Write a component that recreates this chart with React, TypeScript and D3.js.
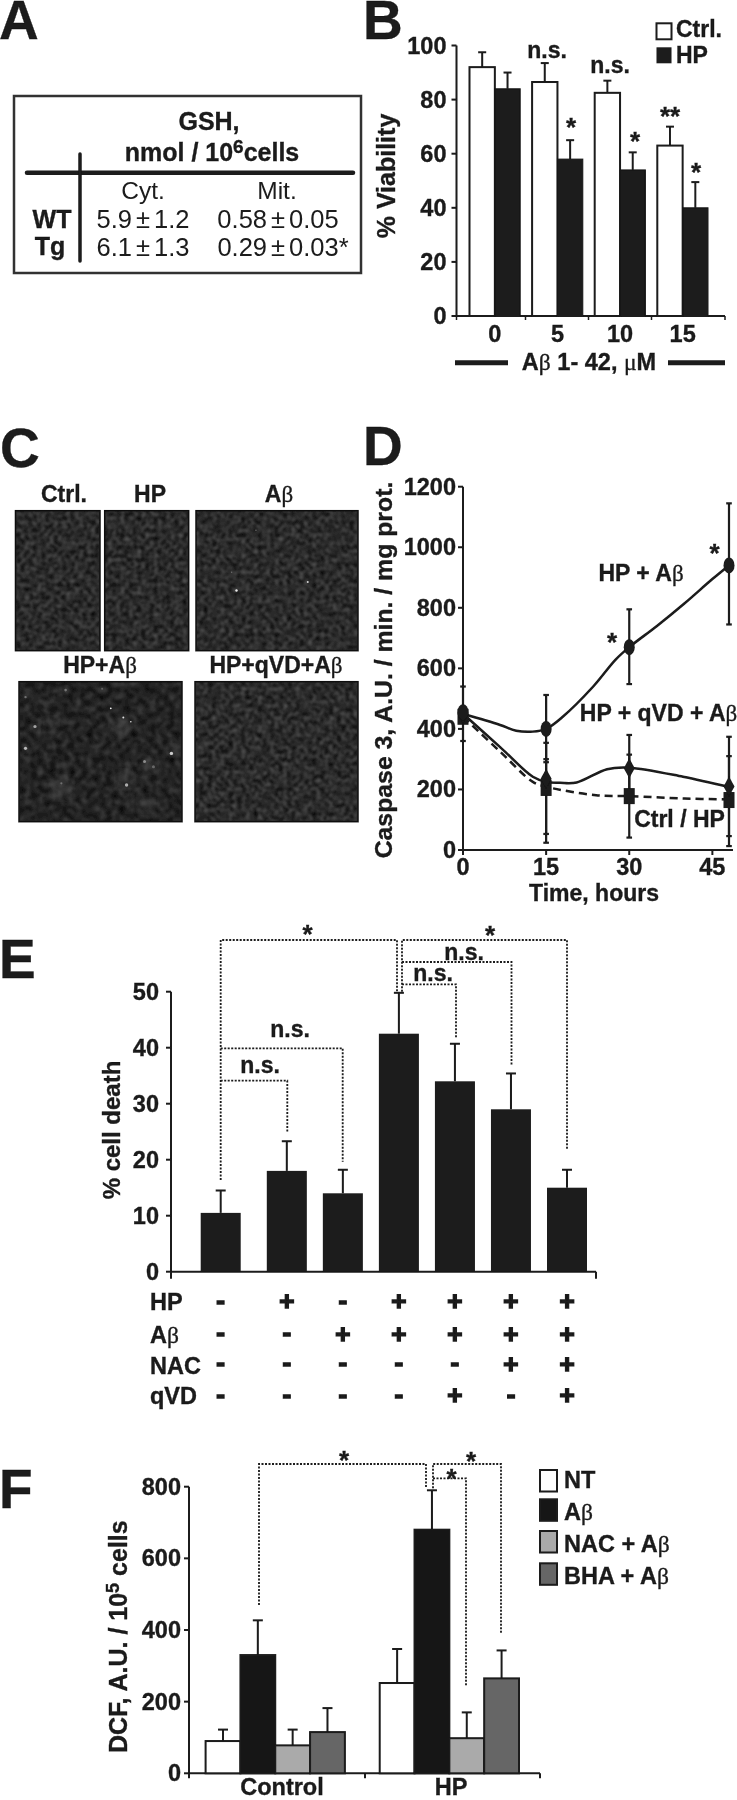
import React from "react";
import * as d3 from "d3";

const INK = "#1a1a1a";
const SANS = "'Liberation Sans', Arial, sans-serif";
const SERIF = "'Liberation Serif', serif";

// Panel B
const bDoses = ["0", "5", "10", "15"];
const bCtrl = [92, 86.5, 82.5, 63];
const bHP = [84, 58, 54, 40];
const bCtrlTop = [97.5, 93.5, 87, 70];
const bHPTop = [90, 65, 60.5, 49.5];
const bTicks = [0, 20, 40, 60, 80, 100];

// Panel D
const dTicksY = [0, 200, 400, 600, 800, 1000, 1200];
const dTicksX = [0, 15, 30, 45];
const dTimes = [0, 15, 30, 48];
const dHPAb = [455, 400, 670, 940];
const dHPAbHi = [540, 512, 795, 1145];
const dHPAbLo = [360, 290, 548, 745];
const dQvd = [450, 235, 270, 210];
const dQvdHi = [450, 354, 380, 374];
const dQvdLo = [450, 24, 165, 46];
const dCtrl = [440, 205, 178, 165];
const dCtrlHi = [440, 300, 315, 310];
const dCtrlLo = [440, 53, 41, 13];
const dCurveHPAb: [number, number][] = [[0, 450], [6.7, 413], [9.6, 394], [12.6, 391], [15, 400], [18, 440], [23.5, 540], [27.5, 628], [30, 670], [35, 740], [40, 815], [45, 895], [48, 940]];
const dCurveQvd: [number, number][] = [[0, 450], [6.7, 340], [12.6, 242], [15, 225], [17.5, 222], [20.5, 223], [26, 267], [30, 272], [39.7, 242], [48, 208]];
const dCurveCtrl: [number, number][] = [[0, 440], [6.7, 325], [12.6, 225], [15, 209], [24, 181], [30, 178], [40, 170], [48, 167]];

// Panel E
const eVals = [10.5, 18, 14, 42.5, 34, 29, 15];
const eTop = [14.5, 23.3, 18.2, 49.8, 40.7, 35.4, 18.2];
const eSlots = [0, 1.18, 2.18, 3.18, 4.18, 5.18, 6.18];
const eTicks = [0, 10, 20, 30, 40, 50];
const eHP = ["-", "+", "-", "+", "+", "+", "+"];
const eAb = ["-", "-", "+", "+", "+", "+", "+"];
const eNAC = ["-", "-", "-", "-", "-", "+", "+"];
const eQvd = ["-", "-", "-", "-", "+", "-", "+"];

// Panel F
const fGroups = ["Control", "HP"];
const fSeries = ["NT", "Aβ", "NAC + Aβ", "BHA + Aβ"];
const fColors = ["#ffffff", "#151515", "#aaaaaa", "#666666"];
const fControl = [90, 330, 78, 115];
const fControlTop = [122, 427, 122, 182];
const fHP = [252, 680, 98, 265];
const fHPTop = [347, 790, 170, 343];
const fTicks = [0, 200, 400, 600, 800];

// Panel C bright cells, as fractions of each micrograph
const cSpotsAb: [number, number, number, number][] = [[0.25, 0.57, 1.2, 0.95], [0.69, 0.51, 1, 0.85], [0.37, 0.14, 0.7, 0.4], [0.22, 0.44, 0.7, 0.3]];
const cSpotsHPAb: [number, number, number, number][] = [[0.563, 0.19, 0.9, 1], [0.64, 0.255, 1, 0.9], [0.686, 0.286, 0.8, 0.9], [0.098, 0.32, 1.6, 0.6], [0.04, 0.476, 1.6, 0.7], [0.935, 0.512, 1.7, 0.8], [0.77, 0.57, 1.5, 0.45], [0.825, 0.607, 1.5, 0.3], [0.66, 0.738, 1.7, 0.65], [0.26, 0.726, 1.1, 0.3], [0.286, 0.06, 1.3, 0.35], [0.04, 0.11, 1.2, 0.35], [0.51, 0.05, 1, 0.25]];
const cHalosHPAb: [number, number, number][] = [[0.62, 0.32, 10], [0.26, 0.76, 11], [0.65, 0.7, 9], [0.8, 0.595, 8], [0.78, 0.87, 8], [0.95, 0.49, 6], [0.1, 0.33, 4], [0.05, 0.48, 4], [0.29, 0.06, 4], [0.2, 0.3, 7]];

const T = ({ x, y, children, size = 24, anchor = "start", weight = "bold", rotate, heavy = 0.35 }: any) => (
  <text
    x={x}
    y={y}
    fontSize={size}
    fontWeight={weight}
    fontFamily={SANS}
    textAnchor={anchor}
    fill={INK}
    stroke={weight === "bold" ? INK : "none"}
    strokeWidth={weight === "bold" ? heavy : 0}
    transform={rotate ? `rotate(${rotate} ${x} ${y})` : undefined}
  >
    {children}
  </text>
);
const Beta = () => <tspan fontFamily={SERIF} fontWeight="normal">β</tspan>;
const Star = ({ x, y, s = "*" }: any) => <T x={x} y={y + 14} size={26} anchor="middle">{s}</T>;
const Letter = ({ x, y, c }: any) => <T x={x} y={y} size={55}>{c}</T>;
const PM = ({ a, b }: { a: string; b: string }) => (
  <>
    {a}
    <tspan dx={4}>±</tspan>
    <tspan dx={4}>{b}</tspan>
  </>
);

const YAxis = ({ x, scale, ticks, tick = 5, sw = 2, labelGap = 5 }: any) => (
  <g>
    <line x1={x} x2={x} y1={scale(ticks[ticks.length - 1])} y2={scale(0)} stroke={INK} strokeWidth={sw} />
    {ticks.map((t: number) => (
      <g key={t}>
        <line x1={x - tick} x2={x} y1={scale(t)} y2={scale(t)} stroke={INK} strokeWidth={sw} />
        <T x={x - tick - labelGap} y={scale(t) + 8} anchor="end" size={23.5}>{t}</T>
      </g>
    ))}
  </g>
);

const ErrBar = ({ x, y0, y1, cap = 4, sw = 2 }: any) => (
  <g stroke={INK} strokeWidth={sw}>
    <line x1={x} x2={x} y1={y0} y2={y1} />
    <line x1={x - cap} x2={x + cap} y1={y1} y2={y1} />
  </g>
);

const Dotted = ({ pts }: { pts: [number, number][] }) => (
  <path d={d3.line()(pts) as string} fill="none" stroke={INK} strokeWidth={1.8} strokeDasharray="2 1.5" />
);

const Micro = ({ x, y, w, h, seed, spots = [], halos = [], stroke = "#111" }: any) => {
  const sx = d3.scaleLinear().domain([0, 1]).range([x, x + w]);
  const sy = d3.scaleLinear().domain([0, 1]).range([y, y + h]);
  const id = `noise${seed}`;
  const cid = `clip${seed}`;
  return (
    <g>
      <clipPath id={cid}><rect x={x} y={y} width={w} height={h} /></clipPath>
      <rect x={x} y={y} width={w} height={h} fill="#2a2a2a" />
      <rect x={x} y={y} width={w} height={h} filter={`url(#${id})`} />
      <g clipPath={`url(#${cid})`}>
        {halos.map((s: number[], i: number) => (
          <circle key={i} cx={sx(s[0])} cy={sy(s[1])} r={s[2]} fill="#8f8f8f" opacity={0.2} filter="url(#glow)" />
        ))}
        {spots.map((s: number[], i: number) => (
          <circle key={i} cx={sx(s[0])} cy={sy(s[1])} r={s[2]} fill="#f4f4f4" opacity={s[3]} filter="url(#soft)" />
        ))}
      </g>
      <rect x={x} y={y} width={w} height={h} fill="none" stroke={stroke} strokeWidth={1.5} />
    </g>
  );
};

export default function App() {
  // B scales
  const by = d3.scaleLinear().domain([0, 100]).range([316, 45.5]);
  const bx = d3.scaleBand().domain(bDoses).range([469.5, 708]).paddingInner(0.19).paddingOuter(0);
  const bw = bx.bandwidth() / 2;
  const bTickX = [456.5, 525.5, 588.5, 651.5, 725];

  // D scales
  const dy = d3.scaleLinear().domain([0, 1200]).range([850, 486.7]);
  const dx = d3.scaleLinear().domain([0, 48]).range([463, 729]);
  const dLine = d3.line<[number, number]>().x((d) => dx(d[0])).y((d) => dy(d[1])).curve(d3.curveCatmullRom.alpha(0.5));

  // E scales
  const ey = d3.scaleLinear().domain([0, 50]).range([1271.7, 991.7]);
  const ex = d3.scaleLinear().domain([0, 6.18]).range([220.7, 567]);
  const eBar = 40;
  const eRows = [
    { label: "HP", vals: eHP, y: 1301.7, base: 1310 },
    { label: "Aβ", vals: eAb, y: 1334, base: 1343.3 },
    { label: "NAC", vals: eNAC, y: 1364, base: 1374 },
    { label: "qVD", vals: eQvd, y: 1395.7, base: 1404 },
  ];

  // F scales
  const fy = d3.scaleLinear().domain([0, 800]).range([1773.3, 1486.7]);
  const fx0 = d3.scaleBand().domain(fGroups).range([205.6, 519]).paddingInner(0.2).paddingOuter(0);
  const fx1 = d3.scaleBand().domain(fSeries).range([0, fx0.bandwidth()]);
  const fData = [
    { g: "Control", v: fControl, t: fControlTop },
    { g: "HP", v: fHP, t: fHPTop },
  ];

  const series = [
    { t: dHPAb, hi: dHPAbHi, lo: dHPAbLo },
    { t: dQvd, hi: dQvdHi, lo: dQvdLo },
    { t: dCtrl, hi: dCtrlHi, lo: dCtrlLo },
  ];

  return (
    <svg width={737} height={1800} style={{ position: "absolute", left: 0, top: 0, background: "#fff" }}>
      <defs>
        {[1, 2, 3, 4, 5].map((s) => (
          <filter key={s} id={`noise${s}`} x="0" y="0" width="1" height="1" colorInterpolationFilters="sRGB">
            <feTurbulence type="fractalNoise" baseFrequency={s === 4 ? 0.16 : 0.24} numOctaves={2} seed={s * 7} />
            <feColorMatrix type="matrix" values={s === 4 ? "0.32 0 0 0 -0.02  0.32 0 0 0 -0.02  0.32 0 0 0 -0.02  0 0 0 0 1" : "0.5 0 0 0 -0.08  0.5 0 0 0 -0.08  0.5 0 0 0 -0.08  0 0 0 0 1"} />
            <feGaussianBlur stdDeviation={s === 4 ? 1.1 : 0.8} />
          </filter>
        ))}
        <filter id="glow"><feGaussianBlur stdDeviation={4} /></filter>
        <filter id="soft"><feGaussianBlur stdDeviation={0.7} /></filter>
        <filter id="jpeg"><feGaussianBlur stdDeviation={0.35} /></filter>
      </defs>
      <g filter="url(#jpeg)">
        {/* Panel A */}
        <Letter x={-1} y={39} c="A" />
        <rect x={14} y={96} width={347} height={177} fill="none" stroke="#333" strokeWidth={2.5} />
        <T x={209} y={130} anchor="middle" size={25}>GSH,</T>
        <T x={212} y={161} anchor="middle" size={25}>nmol / 10<tspan fontSize={19} dy={-8}>6</tspan><tspan dy={8}>cells</tspan></T>
        <line x1={27} x2={353} y1={172.7} y2={172.7} stroke={INK} strokeWidth={4.5} strokeLinecap="round" />
        <line x1={80} x2={80} y1={154} y2={261} stroke={INK} strokeWidth={3.5} strokeLinecap="round" />
        <T x={143} y={199} anchor="middle" size={24.5} weight="normal">Cyt.</T>
        <T x={277} y={199} anchor="middle" size={24.5} weight="normal">Mit.</T>
        <T x={52} y={228} anchor="middle" size={25}>WT</T>
        <T x={50} y={255} anchor="middle" size={25}>Tg</T>
        <T x={143} y={228} anchor="middle" size={25.5} weight="normal"><PM a="5.9" b="1.2" /></T>
        <T x={143} y={256} anchor="middle" size={25.5} weight="normal"><PM a="6.1" b="1.3" /></T>
        <T x={278} y={228} anchor="middle" size={25.5} weight="normal"><PM a="0.58" b="0.05" /></T>
        <T x={283} y={256} anchor="middle" size={25.5} weight="normal"><PM a="0.29" b="0.03*" /></T>

        {/* Panel B */}
        <Letter x={363} y={39} c="B" />
        <YAxis x={456.5} scale={by} ticks={bTicks} />
        <line x1={456} x2={725} y1={by(0)} y2={by(0)} stroke={INK} strokeWidth={2} />
        {bTickX.map((x, i) => <line key={i} x1={x} x2={x} y1={by(0)} y2={by(0) + 4} stroke={INK} strokeWidth={1.5} />)}
        {bDoses.map((d, i) => {
          const x = bx(d) as number;
          return (
            <g key={d}>
              <ErrBar x={x + bw / 2} y0={by(bCtrl[i])} y1={by(bCtrlTop[i])} />
              <ErrBar x={x + bw * 1.5} y0={by(bHP[i])} y1={by(bHPTop[i])} />
              <rect x={x} y={by(bCtrl[i])} width={bw} height={by(0) - by(bCtrl[i])} fill="#fff" stroke={INK} strokeWidth={2} />
              <rect x={x + bw} y={by(bHP[i])} width={bw} height={by(0) - by(bHP[i])} fill={INK} stroke={INK} strokeWidth={1} />
              <T x={x + bw} y={342} anchor="middle" size={23.5}>{d}</T>
            </g>
          );
        })}
        <T x={395} y={176} anchor="middle" size={25} rotate={-90}>% Viability</T>
        <line x1={455} x2={508} y1={362.7} y2={362.7} stroke={INK} strokeWidth={5} />
        <line x1={668} x2={725} y1={362.7} y2={362.7} stroke={INK} strokeWidth={5} />
        <T x={589} y={370} anchor="middle" size={23.5}>A<Beta /> 1- 42, <tspan fontFamily={SERIF} fontWeight="normal">μ</tspan>M</T>
        <rect x={656.5} y={23.3} width={15} height={16} fill="#fff" stroke={INK} strokeWidth={2} />
        <rect x={656.5} y={47.3} width={15} height={16} fill={INK} />
        <T x={676} y={37} size={23}>Ctrl.</T>
        <T x={676} y={62.7} size={23}>HP</T>
        <T x={547} y={58} anchor="middle" size={23}>n.s.</T>
        <T x={610} y={72.7} anchor="middle" size={23}>n.s.</T>
        <Star x={571} y={121.7} />
        <Star x={635} y={136} />
        <Star x={670} y={111} s="**" />
        <Star x={696} y={166.7} />

        {/* Panel C */}
        <Letter x={0} y={466.7} c="C" />
        <T x={64} y={501.7} anchor="middle" size={23}>Ctrl.</T>
        <T x={150} y={501.7} anchor="middle" size={23}>HP</T>
        <T x={279} y={501.7} anchor="middle" size={23}>A<Beta /></T>
        <T x={100} y={673.3} anchor="middle" size={23}>HP+A<Beta /></T>
        <T x={276} y={673.3} anchor="middle" size={23}>HP+qVD+A<Beta /></T>
        <Micro x={15.5} y={510.7} w={84.5} h={140} seed={1} />
        <Micro x={104.7} y={510.7} w={84} h={140} seed={2} />
        <Micro x={196} y={510.7} w={162} h={140} seed={3} spots={cSpotsAb} />
        <Micro x={19} y={681.7} w={163} h={140} seed={4} spots={cSpotsHPAb} halos={cHalosHPAb} />
        <Micro x={195} y={681.7} w={163} h={140} seed={5} />

        {/* Panel D */}
        <Letter x={363} y={465} c="D" />
        <YAxis x={463} scale={dy} ticks={dTicksY} labelGap={2} />
        <line x1={463} x2={733} y1={dy(0)} y2={dy(0)} stroke={INK} strokeWidth={2} />
        {dTicksX.map((t) => (
          <g key={t}>
            <line x1={dx(t)} x2={dx(t)} y1={dy(0)} y2={dy(0) + 5} stroke={INK} strokeWidth={2} />
            <T x={dx(t)} y={875} anchor="middle" size={23.5}>{t}</T>
          </g>
        ))}
        <T x={594} y={901} anchor="middle" size={23}>Time, hours</T>
        <T x={392} y={670} anchor="middle" size={24.8} rotate={-90}>Caspase 3, A.U. / min. / mg prot.</T>
        {series.map((s, si) =>
          dTimes.map((t, i) =>
            s.hi[i] === s.lo[i] ? null : (
              <g key={`${si}-${i}`} stroke={INK} strokeWidth={2.2}>
                <line x1={dx(t)} x2={dx(t)} y1={dy(s.hi[i])} y2={dy(s.lo[i])} />
                <line x1={dx(t) - 2.8} x2={dx(t) + 2.8} y1={dy(s.hi[i])} y2={dy(s.hi[i])} />
                <line x1={dx(t) - 2.8} x2={dx(t) + 2.8} y1={dy(s.lo[i])} y2={dy(s.lo[i])} />
              </g>
            )
          )
        )}
        <path d={dLine(dCurveHPAb) as string} fill="none" stroke={INK} strokeWidth={2.5} />
        <path d={dLine(dCurveQvd) as string} fill="none" stroke={INK} strokeWidth={2.5} />
        <path d={dLine(dCurveCtrl) as string} fill="none" stroke={INK} strokeWidth={2.5} strokeDasharray="8 5" />
        {dTimes.map((t, i) => (
          <g key={t} fill={INK}>
            <rect x={dx(t) - 5.5} y={dy(dCtrl[i]) - 8} width={11} height={16} />
            <path d={`M${dx(t)},${dy(dQvd[i]) - 10}L${dx(t) + 5.5},${dy(dQvd[i])}L${dx(t)},${dy(dQvd[i]) + 10}L${dx(t) - 5.5},${dy(dQvd[i])}Z`} />
            <ellipse cx={dx(t)} cy={dy(dHPAb[i])} rx={5.5} ry={8} />
          </g>
        ))}
        <T x={641} y={581} anchor="middle" size={23}>HP + A<Beta /></T>
        <T x={658.5} y={720.7} anchor="middle" size={23}>HP + qVD + A<Beta /></T>
        <T x={679.5} y={827.3} anchor="middle" size={23}>Ctrl / HP</T>
        <Star x={714.5} y={547.7} />
        <Star x={612} y={637.3} />

        {/* Panel E */}
        <Letter x={-1} y={978.3} c="E" />
        <YAxis x={171} scale={ey} ticks={eTicks} labelGap={7} />
        <line x1={171} x2={596} y1={ey(0)} y2={ey(0)} stroke={INK} strokeWidth={2} />
        <line x1={171} x2={171} y1={ey(0)} y2={ey(0) + 7} stroke={INK} strokeWidth={2} />
        <line x1={596} x2={596} y1={ey(0)} y2={ey(0) + 7} stroke={INK} strokeWidth={2} />
        {eVals.map((v, i) => {
          const c = ex(eSlots[i]);
          return (
            <g key={i}>
              <ErrBar x={c} y0={ey(v)} y1={ey(eTop[i])} cap={5} />
              <rect x={c - eBar / 2} y={ey(v)} width={eBar} height={ey(0) - ey(v)} fill={INK} />
            </g>
          );
        })}
        <T x={120} y={1130} anchor="middle" size={24} rotate={-90}>% cell death</T>
        <Dotted pts={[[220.7, 1180], [220.7, 940], [397, 940], [397, 991.7]]} />
        <Dotted pts={[[220.7, 1048.3], [342.7, 1048.3], [342.7, 1161.7]]} />
        <Dotted pts={[[220.7, 1080.7], [287.3, 1080.7], [287.3, 1131.7]]} />
        <Dotted pts={[[402, 991.7], [402, 940], [567, 940], [567, 1150]]} />
        <Dotted pts={[[402, 962], [511.5, 962], [511.5, 1065]]} />
        <Dotted pts={[[402, 984.3], [456, 984.3], [456, 1038.3]]} />
        <Star x={307.5} y={929.3} />
        <Star x={490} y={930} />
        <T x={464} y={960} anchor="middle" size={23}>n.s.</T>
        <T x={433} y={981} anchor="middle" size={23}>n.s.</T>
        <T x={290} y={1037.3} anchor="middle" size={23}>n.s.</T>
        <T x={260} y={1073.3} anchor="middle" size={23}>n.s.</T>
        {eRows.map((r) => (
          <g key={r.label}>
            <T x={150} y={r.base} size={23.5}>{r.label === "Aβ" ? <>A<Beta /></> : r.label}</T>
            {r.vals.map((v, i) => (
              <T key={i} x={ex(eSlots[i])} y={r.y + (v === "+" ? 8.7 : 7)} anchor="middle" size={26} heavy={1.5}>{v}</T>
            ))}
          </g>
        ))}

        {/* Panel F */}
        <Letter x={-1} y={1508.3} c="F" />
        <YAxis x={189} scale={fy} ticks={fTicks} labelGap={3} />
        <line x1={189} x2={540} y1={fy(0)} y2={fy(0)} stroke={INK} strokeWidth={2} />
        {[189, 365, 540].map((x) => <line key={x} x1={x} x2={x} y1={fy(0)} y2={fy(0) + 5} stroke={INK} strokeWidth={2} />)}
        {fData.map((g) => {
          const g0 = fx0(g.g) as number;
          return (
            <g key={g.g}>
              {fSeries.map((s, i) => {
                const x = g0 + (fx1(s) as number);
                const w = fx1.bandwidth();
                return (
                  <g key={s}>
                    <ErrBar x={x + w / 2} y0={fy(g.v[i])} y1={fy(g.t[i])} cap={5} />
                    <rect x={x} y={fy(g.v[i])} width={w} height={fy(0) - fy(g.v[i])} fill={fColors[i]} stroke={INK} strokeWidth={2} />
                  </g>
                );
              })}
            </g>
          );
        })}
        <T x={282} y={1795} anchor="middle" size={23.5}>Control</T>
        <T x={451} y={1795} anchor="middle" size={23.5}>HP</T>
        <T x={127} y={1636.7} anchor="middle" size={25} rotate={-90}>DCF, A.U. / 10<tspan fontSize={18} dy={-8}>5</tspan><tspan dy={8}> cells</tspan></T>
        <Dotted pts={[[259, 1605], [259, 1464], [426, 1464], [426, 1488.3]]} />
        <Dotted pts={[[433, 1488.3], [433, 1464], [501, 1464], [501, 1633.3]]} />
        <Dotted pts={[[433, 1478.3], [466, 1478.3], [466, 1686.7]]} />
        <Star x={344} y={1455} />
        <Star x={471} y={1456} />
        <Star x={451.6} y={1473.3} />
        {fSeries.map((s, i) => (
          <g key={s}>
            <rect x={540} y={[1470, 1499.3, 1531, 1563.3][i]} width={17} height={21.5} fill={fColors[i]} stroke={INK} strokeWidth={2} />
            <T x={564} y={[1488.3, 1520, 1551.7, 1584][i]} size={23.5}>
              {s.includes("β") ? <>{s.replace("β", "")}<Beta /></> : s}
            </T>
          </g>
        ))}
      </g>
    </svg>
  );
}
